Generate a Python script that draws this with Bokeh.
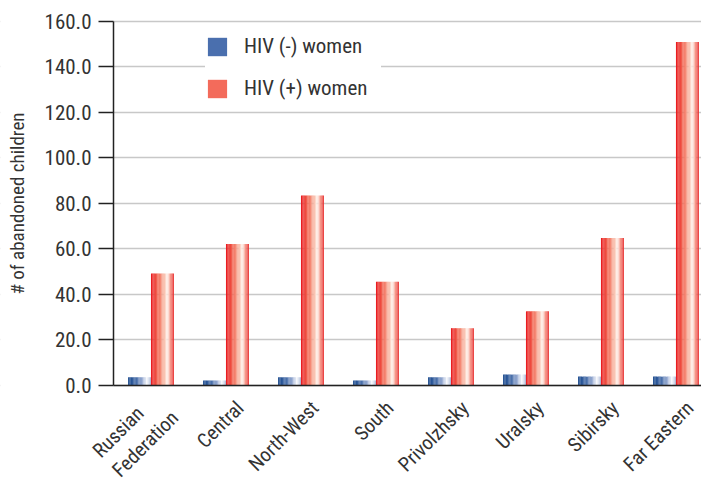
import numpy as np
from bokeh.plotting import figure
from bokeh.models import (Range1d, FixedTicker, NumeralTickFormatter, Legend, LegendItem,
                          LabelSet, ColumnDataSource, BoxAnnotation, LinearAxis)
from bokeh.core.properties import value
from bokeh.embed import file_html
from bokeh.resources import INLINE

categories = ["Russian\nFederation", "Central", "North-West", "South",
              "Privolzhsky", "Uralsky", "Sibirsky", "Far Eastern"]
hiv_neg = [3.6, 2.2, 3.6, 2.2, 3.6, 4.8, 3.9, 3.9]
hiv_pos = [49.2, 62.2, 83.5, 45.6, 25.2, 32.6, 64.8, 151.0]
series_names = ["HIV (-) women", "HIV (+) women"]
y_ticks = [0, 20, 40, 60, 80, 100, 120, 140, 160]

FONT = "'Liberation Sans Narrow', 'Roboto Condensed', 'DejaVu Sans Condensed', sans-serif"
TXT = "#333333"
AX = "#222222"

blue_stops = [(0.0, (20, 69, 138)), (0.35, (70, 108, 168)), (0.65, (160, 178, 214)),
              (0.82, (255, 255, 255)), (1.0, (165, 180, 214))]
red_stops = [(0.0, (232, 22, 28)), (0.3, (242, 100, 80)), (0.55, (248, 180, 160)),
             (0.72, (255, 246, 240)), (0.86, (246, 150, 135)), (1.0, (230, 36, 38))]


def interp(stops, t):
    for (t0, c0), (t1, c1) in zip(stops[:-1], stops[1:]):
        if t0 <= t <= t1:
            f = (t - t0) / (t1 - t0) if t1 > t0 else 0
            c = [int(round(a + (b - a) * f)) for a, b in zip(c0, c1)]
            return "#%02x%02x%02x" % tuple(c)
    return "#%02x%02x%02x" % stops[-1][1]


X_END = 7.84
# frame covers the whole canvas; axes are pinned at x=0 / y=0
p = figure(width=701, height=481, output_backend="svg", toolbar_location=None,
           x_range=Range1d(-1.507, X_END), y_range=Range1d(-42.2, 169.2),
           x_axis_location=None, y_axis_location=None,
           min_border_left=0, min_border_right=0, min_border_top=0,
           min_border_bottom=0)
p.outline_line_color = None
p.background_fill_color = "white"
p.border_fill_color = "white"

# y axis at x = 0
yax = LinearAxis(fixed_location=0, bounds=(0, 160), ticker=FixedTicker(ticks=y_ticks),
                 formatter=NumeralTickFormatter(format="0.0"))
yax.axis_label = "# of abandoned children"
yax.axis_label_text_font = FONT
yax.axis_label_text_font_style = "normal"
yax.axis_label_text_font_size = "19px"
yax.axis_label_text_color = TXT
yax.axis_label_standoff = 12
yax.major_label_text_font = FONT
yax.major_label_text_font_size = "21px"
yax.major_label_text_color = TXT
yax.major_tick_out = 15
yax.major_tick_in = 0
yax.minor_tick_line_color = None
yax.major_tick_line_color = AX
yax.major_tick_line_width = 1.5
yax.axis_line_color = AX
yax.axis_line_width = 1.5
yax.major_label_standoff = 7
p.add_layout(yax, "left")

# x axis line at y = 0
xax = LinearAxis(fixed_location=0, bounds=(0, X_END), ticker=FixedTicker(ticks=[]))
xax.axis_line_color = AX
xax.axis_line_width = 1.5
xax.major_tick_line_color = None
xax.minor_tick_line_color = None
p.add_layout(xax, "below")

p.xgrid.grid_line_color = None
p.ygrid.ticker = FixedTicker(ticks=y_ticks)
p.ygrid.grid_line_color = "#c8c8c8"
p.ygrid.grid_line_width = 1.5

# keep the gridlines to the right of the y axis
p.add_layout(BoxAnnotation(right=0, fill_color="white", fill_alpha=1.0,
                           line_color=None, level="underlay"))

centers = np.arange(len(categories)) + 0.5
W = 0.305
N = 18
for s, vals in enumerate([hiv_neg, hiv_pos]):
    stops = blue_stops if s == 0 else red_stops
    base = centers - W if s == 0 else centers
    for k in range(N):
        t = (k + 0.5) / N
        xs = base + (k + 0.5) * W / N
        p.vbar(x=xs, top=vals, bottom=0, width=W / N * 1.08,
               fill_color=interp(stops, t), line_color=None)

# legend swatches (representative colours)
leg_neg = p.vbar(x=[0], top=[0], width=0, fill_color="#4a6fae", line_color=None)
leg_pos = p.vbar(x=[0], top=[0], width=0, fill_color="#f36b5b", line_color=None)

legend = Legend(items=[LegendItem(label=series_names[0], renderers=[leg_neg]),
                       LegendItem(label=series_names[1], renderers=[leg_pos])],
                location=(205, 381), glyph_width=24, glyph_height=23,
                label_height=23, label_width=137, spacing=18, padding=12,
                label_standoff=15,
                border_line_color=None, background_fill_color="white",
                background_fill_alpha=1.0,
                label_text_font=FONT, label_text_font_size="21px",
                label_text_color=TXT)
p.add_layout(legend, "center")

# category labels below the axis
lab_src = ColumnDataSource(dict(x=centers, y=np.zeros(len(categories)), text=categories))
labels = LabelSet(x="x", y="y", text="text", source=lab_src, angle=np.pi / 4,
                  x_offset=14, y_offset=-19, text_align="right", text_baseline="middle",
                  text_font=value(FONT), text_font_size="20px", text_color=TXT,
                  text_line_height=1.15)
p.add_layout(labels)

open("out.html", "w").write(file_html(p, INLINE))
